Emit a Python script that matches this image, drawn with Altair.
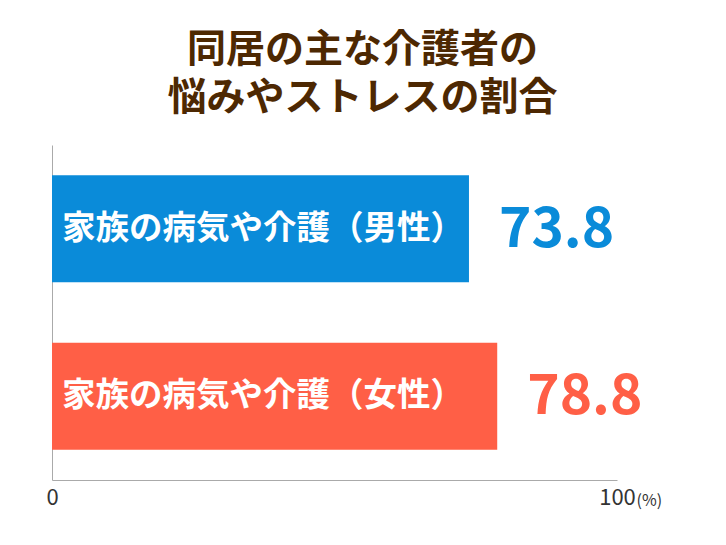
import altair as alt
import pandas as pd

categories = ["家族の病気や介護（男性）", "家族の病気や介護（女性）"]
values = [73.8, 78.8]
colors = ["#0A8BD9", "#FF5F46"]
title_lines = ["同居の主な介護者の", "悩みやストレスの割合"]

df = pd.DataFrame({"cat": categories, "val": values, "col": colors})
df["lbl"] = df["val"].map(lambda v: f"{v:.1f}")

FONT = "Noto Sans CJK JP"

y_enc = alt.Y("cat:N", sort=categories,
              scale=alt.Scale(paddingInner=0, paddingOuter=0),
              axis=alt.Axis(labels=False, ticks=False, title=None,
                            domainColor="#aaaaaa", domainWidth=1))
x_enc = alt.X("val:Q", scale=alt.Scale(domain=[0, 100]),
              axis=alt.Axis(values=[0, 100], ticks=False, grid=False,
                            labelFontSize=22, labelColor="#333333", labelFont=FONT,
                            labelPadding=7, labelFlush=False,
                            domainColor="#aaaaaa", domainWidth=1,
                            title="(%)", titleFontSize=16, titleFont=FONT,
                            titleFontWeight="normal", titleColor="#333333",
                            titleAlign="left", titleAnchor="start",
                            titleX=584, titleY=20, titleBaseline="middle"))

base = alt.Chart(df)

bars = base.mark_bar(size=107).encode(
    x=x_enc, y=y_enc,
    color=alt.Color("col:N", scale=None),
)

inner = base.mark_text(align="left", baseline="middle", dx=10, fontSize=33.5,
                       fontWeight="bold", font=FONT, color="white").encode(
    x=alt.datum(0), y=alt.Y("cat:N", sort=categories), text="cat:N"
)

vals = base.mark_text(align="left", baseline="middle", dx=30, dy=1, fontSize=55,
                      fontWeight="bold", font=FONT).encode(
    x="val:Q", y=alt.Y("cat:N", sort=categories), text="lbl:N",
    color=alt.Color("col:N", scale=None),
)

chart = alt.layer(bars, inner, vals).properties(
    width=565, height=335,
    autosize=alt.AutoSizeParams(type="none"),
    padding={"left": 44, "top": 137, "right": 101, "bottom": 57},
    title=alt.TitleParams(text=title_lines, fontSize=39, font=FONT,
                          fontWeight="bold", color="#4D2802", anchor="middle",
                          dx=28, lineHeight=48, offset=27),
).configure_view(stroke=None)

chart.save("out.html", embed_options={"renderer": "svg", "actions": False})
